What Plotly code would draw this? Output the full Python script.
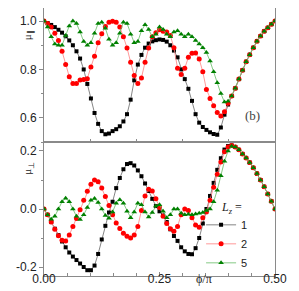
import numpy as np
import plotly.graph_objects as go

# phi/pi grid
phi = np.linspace(0, 0.5, 65)

# mu_parallel (top panel)
mu_par_1 = [1.0, 0.992, 0.984, 0.975, 0.964, 0.952, 0.937, 0.92, 0.9, 0.875,
            0.845, 0.8, 0.74, 0.68, 0.62, 0.575, 0.545, 0.532, 0.535, 0.545,
            0.553, 0.565, 0.585, 0.615, 0.675, 0.755, 0.82, 0.86, 0.89, 0.907,
            0.916, 0.921, 0.924, 0.922, 0.915, 0.9, 0.878, 0.85, 0.8, 0.76,
            0.72, 0.67, 0.615, 0.58, 0.562, 0.55, 0.54, 0.533, 0.53, 0.56,
            0.613, 0.655, 0.69, 0.722, 0.76, 0.797, 0.832, 0.861, 0.89, 0.917,
            0.938, 0.958, 0.972, 0.987, 1.0]
mu_par_2 = [1.0, 0.99, 0.975, 0.95, 0.92, 0.875, 0.82, 0.77, 0.742, 0.742,
            0.756, 0.758, 0.762, 0.81, 0.855, 0.91, 0.948, 0.978, 0.995, 0.999,
            0.995, 0.975, 0.935, 0.889, 0.83, 0.775, 0.742, 0.765, 0.83, 0.889,
            0.935, 0.952, 0.964, 0.958, 0.955, 0.94, 0.89, 0.805, 0.779, 0.805,
            0.85, 0.867, 0.868, 0.843, 0.79, 0.717, 0.68, 0.65, 0.622, 0.608,
            0.625, 0.66, 0.69, 0.722, 0.76, 0.797, 0.832, 0.861, 0.89, 0.917,
            0.938, 0.958, 0.972, 0.987, 1.0]
mu_par_5 = [1.0, 0.975, 0.935, 0.905, 0.9, 0.9, 0.94, 0.98, 1.0, 0.99,
            0.955, 0.915, 0.9, 0.91, 0.95, 0.99, 0.995, 0.97, 0.925, 0.9,
            0.91, 0.95, 0.995, 0.99, 0.945, 0.91, 0.915, 0.96, 0.985, 0.965,
            0.935, 0.945, 0.975, 0.965, 0.945, 0.935, 0.955, 0.96, 0.945, 0.935,
            0.945, 0.935, 0.92, 0.905, 0.89, 0.87, 0.835, 0.79, 0.745, 0.7,
            0.665, 0.668, 0.69, 0.722, 0.76, 0.797, 0.832, 0.861, 0.89, 0.917,
            0.938, 0.958, 0.972, 0.987, 1.0]

# mu_perp (bottom panel)
mu_perp_1 = [0.0, -0.02, -0.045, -0.068, -0.09, -0.112, -0.132, -0.15, -0.164, -0.176,
             -0.188, -0.2, -0.211, -0.211, -0.195, -0.155, -0.105, -0.058, -0.012, 0.025,
             0.072, 0.107, 0.137, 0.155, 0.158, 0.15, 0.133, 0.113, 0.088, 0.062,
             0.035, 0.01, -0.008, -0.022, -0.045, -0.07, -0.093, -0.11, -0.132, -0.146,
             -0.155, -0.156, -0.135, -0.1, -0.05, 0.0, 0.045, 0.09, 0.135, 0.175,
             0.205, 0.217, 0.219, 0.214, 0.204, 0.19, 0.176, 0.16, 0.142, 0.122,
             0.1, 0.077, 0.052, 0.027, 0.0]
mu_perp_2 = [0.0, -0.02, -0.045, -0.07, -0.092, -0.108, -0.11, -0.09, -0.06, -0.033,
             -0.003, 0.03, 0.061, 0.085, 0.1, 0.094, 0.072, 0.043, 0.012, -0.02,
             -0.048, -0.067, -0.084, -0.094, -0.1, -0.09, -0.06, -0.005, 0.045, 0.068,
             0.062, 0.035, 0.005, -0.025, -0.05, -0.068, -0.077, -0.06, -0.02, 0.0,
             -0.005, -0.03, -0.055, -0.063, -0.03, -0.01, 0.03, 0.075, 0.12, 0.162,
             0.197, 0.214, 0.219, 0.214, 0.204, 0.19, 0.176, 0.16, 0.142, 0.122,
             0.1, 0.077, 0.052, 0.027, 0.0]
mu_perp_5 = [0.0, -0.02, -0.035, -0.025, 0.0, 0.025, 0.037, 0.025, 0.0, -0.025,
             -0.036, -0.02, 0.005, 0.03, 0.036, 0.022, 0.0, -0.022, -0.032, -0.01,
             0.02, 0.032, 0.02, -0.008, -0.03, -0.01, 0.02, 0.015, -0.01, -0.028,
             -0.012, 0.01, 0.015, -0.008, -0.03, -0.02, 0.0, 0.0, -0.015, -0.02,
             -0.018, -0.02, -0.017, -0.015, -0.012, -0.005, 0.0, 0.025, 0.065, 0.115,
             0.165, 0.2, 0.216, 0.214, 0.204, 0.19, 0.176, 0.16, 0.142, 0.122,
             0.1, 0.077, 0.052, 0.027, 0.0]

labels = ["1", "2", "5"]
marker_colors = ["#000000", "#ff0000", "#008000"]
line_colors = ["#666666", "#ff7f7f", "#66bb66"]
symbols = ["square", "circle", "triangle-up"]
sizes = [4, 5, 5]

fig = go.Figure()
par = [mu_par_1, mu_par_2, mu_par_5]
perp = [mu_perp_1, mu_perp_2, mu_perp_5]
for k in range(3):
    fig.add_trace(go.Scatter(x=phi, y=par[k], mode="lines+markers", xaxis="x2", yaxis="y2",
                             line=dict(color=line_colors[k], width=0.8),
                             marker=dict(color=marker_colors[k], symbol=symbols[k], size=sizes[k]),
                             showlegend=False, name=labels[k]))
for k in range(3):
    fig.add_trace(go.Scatter(x=phi, y=perp[k], mode="lines+markers", xaxis="x", yaxis="y",
                             line=dict(color=line_colors[k], width=0.8),
                             marker=dict(color=marker_colors[k], symbol=symbols[k], size=sizes[k]),
                             showlegend=True, name=labels[k]))

axcol = "#8a8a8a"
common = dict(showline=True, linecolor=axcol, linewidth=1, mirror=True, showgrid=False,
              zeroline=False, tickcolor=axcol)
fig.update_layout(
    width=299, height=291,
    margin=dict(l=36, r=32, t=0, b=23),
    plot_bgcolor="white", paper_bgcolor="white",
    font=dict(family="Liberation Sans, Arial, sans-serif", size=12, color="#222222"),
    xaxis=dict(domain=[0, 1], anchor="y", range=[0, 0.5],
               tickmode="array", tickvals=[0, 0.25, 0.5], ticktext=["0.00", "0.25", "0.50"],
               ticks="inside", ticklen=4, ticklabelstandoff=-8,
               minor=dict(tickmode="linear", tick0=0, dtick=0.05, ticks="inside", ticklen=3, tickcolor=axcol),
               **common),
    yaxis=dict(domain=[0, 0.5], anchor="x", range=[-0.231, 0.231],
               tickmode="array", tickvals=[-0.2, 0, 0.2], ticktext=["-0.2", "0.0", "0.2"],
               ticks="outside", ticklen=4,
               minor=dict(tickmode="linear", tick0=0, dtick=0.1, ticks="outside", ticklen=2, tickcolor=axcol),
               **common),
    xaxis2=dict(domain=[0, 1], anchor="y2", range=[0, 0.5], showticklabels=False,
                tickmode="linear", tick0=0, dtick=0.1, ticks="inside", ticklen=3,
                **common),
    yaxis2=dict(domain=[0.5, 1], anchor="x2", range=[0.5, 1.054],
                tickmode="array", tickvals=[0.6, 0.8, 1.0], ticktext=["0.6", "0.8", "1.0"],
                ticks="outside", ticklen=4,
                minor=dict(tickmode="linear", tick0=0, dtick=0.1, ticks="outside", ticklen=2, tickcolor=axcol),
                **common),
    legend=dict(x=0.68, y=0.12, xanchor="left", yanchor="middle",
                bgcolor="rgba(0,0,0,0)", font=dict(size=11), tracegroupgap=0, itemwidth=30),
    annotations=[
        dict(text="μ<sub>∥</sub>", xref="paper", yref="paper", x=-0.108, y=0.925,
             textangle=-90, showarrow=False, font=dict(size=11, family="Liberation Serif")),
        dict(text="μ<sub>⊥</sub>", xref="paper", yref="paper", x=-0.108, y=0.40,
             textangle=-90, showarrow=False, font=dict(size=11, family="Liberation Serif")),
        dict(text="ϕ/π", xref="paper", yref="paper", x=0.736, y=-0.012, yanchor="middle",
             showarrow=False, font=dict(size=12, family="Liberation Serif")),
        dict(text="(b)", xref="paper", yref="paper", x=0.944, y=0.60,
             showarrow=False, font=dict(size=13, family="Liberation Serif", color="#444444")),
        dict(text="<i>L</i><sub><i>z</i></sub> =", xref="paper", yref="paper", x=0.866, y=0.216,
             showarrow=False, font=dict(size=12, family="Liberation Serif")),
    ],
)

fig.write_html("out.html")
